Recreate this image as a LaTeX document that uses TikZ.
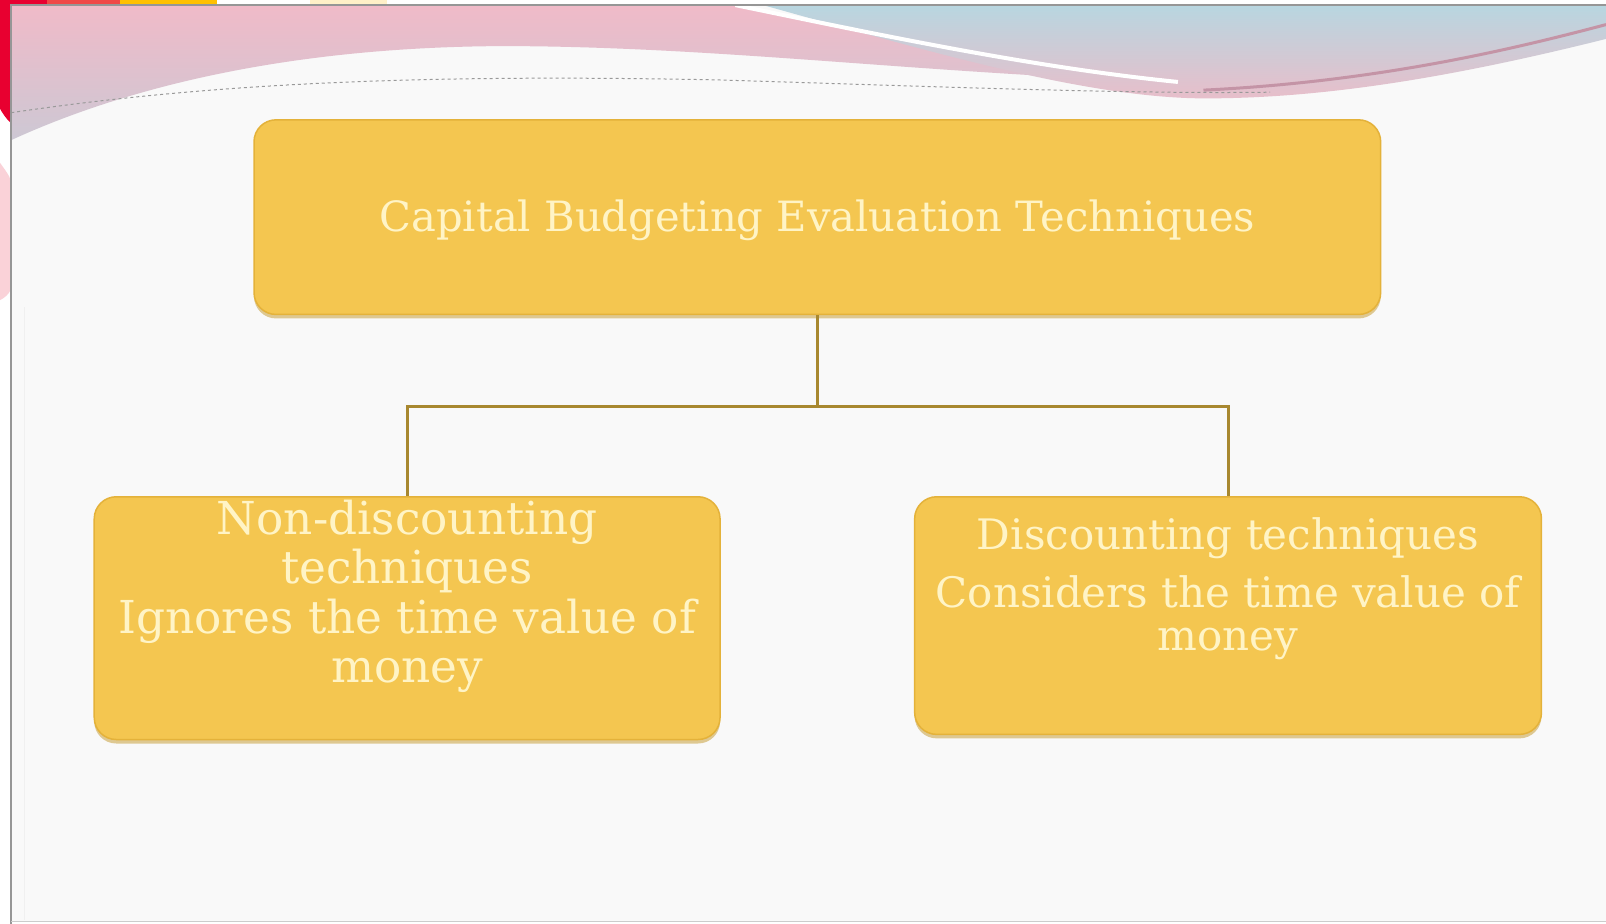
\documentclass[tikz,border=0pt]{standalone}
\usepackage{fontspec}
\setmainfont{DejaVu Serif}
\usetikzlibrary{shadows}
\definecolor{slidebg}{RGB}{249,249,249}
\definecolor{framegray}{RGB}{150,150,150}
\definecolor{pinkT}{RGB}{240,186,200}
\definecolor{pinkB}{RGB}{205,200,212}
\definecolor{blueT}{RGB}{184,214,224}
\definecolor{pinkR}{RGB}{232,190,202}
\definecolor{mauve}{RGB}{196,148,166}
\definecolor{redA}{RGB}{232,0,48}
\definecolor{redB}{RGB}{240,72,72}
\definecolor{yelA}{RGB}{255,192,0}
\definecolor{yelP}{RGB}{255,240,200}
\definecolor{pinkP}{RGB}{250,210,216}
\definecolor{boxfill}{RGB}{244,198,80}
\definecolor{boxedge}{RGB}{228,178,58}
\definecolor{boxshadow}{RGB}{200,160,60}
\definecolor{txt}{RGB}{255,244,198}
\definecolor{conncol}{RGB}{168,136,48}
\tikzset{
  box/.style={rounded corners=22pt, fill=boxfill, draw=boxedge, line width=1.5pt,
    drop shadow={shadow xshift=0pt, shadow yshift=-4pt, fill=boxshadow, opacity=0.55}},
  boxtext/.style={text=txt, align=center, inner sep=0pt},
  conn/.style={draw=conncol, line width=3pt}
}
\begin{document}
\begin{tikzpicture}[x=1pt,y=-1pt,scale=1.02423,every node/.append style={transform shape}]
\useasboundingbox (0,0) rectangle (1568,902.1);
\fill[white] (0,0) rectangle (1568,902.1);
% slide
\fill[slidebg] (10.5,5) rectangle (1568,900);
% left pink swoosh
\shade[top color=pinkT, bottom color=pinkB] (10.5,5) -- (722,5) .. controls (840,30) and (1000,65) .. (1150,80) .. controls (900,72) and (700,45) .. (490,45) .. controls (290,46) and (130,82) .. (10.5,137) -- cycle;
% right swoosh
\shade[top color=blueT, bottom color=pinkR] (745,5) -- (1568,5) -- (1568,38) .. controls (1420,75) and (1290,97) .. (1170,96) .. controls (1050,94) and (890,45) .. (745,5) -- cycle;
\draw[white, line width=4pt] (718,5) .. controls (840,30) and (1000,65) .. (1150,80);
\draw[mauve, line width=3pt] (1175,88) .. controls (1340,80) and (1470,50) .. (1568,24);
\draw[gray!80, dashed, line width=1pt] (11,110) .. controls (200,82) and (400,72) .. (700,78) .. controls (900,84) and (1100,92) .. (1240,90);
% corner decorations
\fill[redA] (0,0) rectangle (46,5);
\fill[redA] (0,0) -- (10.5,0) -- (10.5,120) .. controls (6,116) and (2,110) .. (0,106) -- cycle;
\fill[redB] (46,0) rectangle (117,5);
\fill[yelA] (117,0) rectangle (212,5);
\fill[yelP] (303,0) rectangle (378,5);
\fill[pinkP] (0,159) .. controls (5,166) and (9,171) .. (10.5,176) -- (10.5,283) .. controls (8,288) and (4,291) .. (0,293) -- cycle;
% frame
\draw[framegray, line width=1.5pt] (10.5,902.1) -- (10.5,5) -- (1568,5);
\draw[gray!40, line width=0.8pt] (10.5,900) -- (1568,900);
\draw[gray!12, line width=1pt] (24,300) -- (24,898);
% boxes
\node[box, minimum width=1100pt, minimum height=190pt] (top) at (798,212) {};
\node[box, minimum width=611pt, minimum height=237pt] (lb) at (397.5,603.5) {};
\node[box, minimum width=612pt, minimum height=232pt] (rb) at (1199,601) {};
% connectors
\coordinate (mid) at (798,397);
\draw[conn] (top.south) -- (mid);
\draw[conn] (mid) -| (lb.north);
\draw[conn] (mid) -| (rb.north);
% texts
\node[boxtext, font=\fontsize{40.7}{48}\selectfont] (toptext) at (798,215) {Capital Budgeting Evaluation Techniques};
\node[boxtext, font=\fontsize{44.3}{48.3}\selectfont] (lefttext) at (397.5,582) {Non-discounting\\techniques\\Ignores the time value of\\money};
\node[boxtext, font=\fontsize{41}{42}\selectfont] (righttext) at (1199,575) {Discounting techniques\\[15pt]Considers the time value of\\money};
\end{tikzpicture}
\end{document}
